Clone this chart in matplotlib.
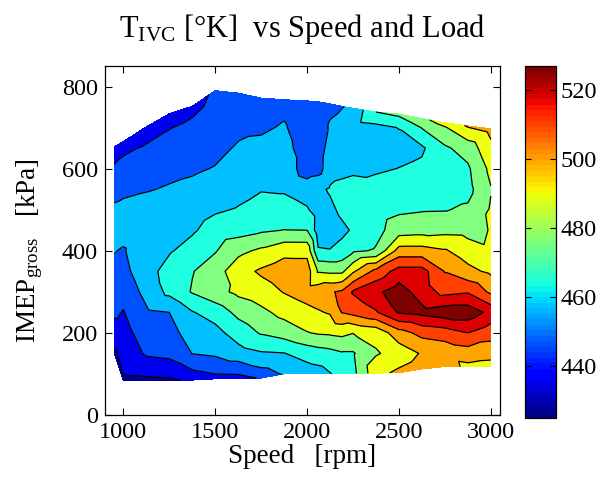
import numpy as np
import matplotlib
matplotlib.use("Agg")
import matplotlib.pyplot as plt
import matplotlib.tri as mtri
from matplotlib.path import Path
from matplotlib.colors import Normalize
from matplotlib.cm import ScalarMappable

plt.rcParams['font.family'] = ['Liberation Serif', 'DejaVu Serif']
plt.rcParams['mathtext.fontset'] = 'custom'
plt.rcParams['mathtext.rm'] = 'Liberation Serif'
plt.rcParams['mathtext.it'] = 'Liberation Serif:italic'

# ---- data ----
speeds = [950, 1000, 1125, 1250, 1375, 1500, 1625, 1750, 1875, 2000,
          2060, 2125, 2190, 2250, 2375, 2500, 2625, 2750, 2875, 3000]
load_top = [653, 666, 702, 734, 752, 790, 784, 772, 768, 765,
            763, 758, 752, 747, 738, 733, 722, 712, 704, 697]
load_bottom = [150, 83, 83, 83, 85, 88, 89, 90, 100, 100,
               100, 100, 101, 101, 102, 103, 112, 118, 118, 118]
T_top = [436, 436, 436, 436, 437.5, 441, 443, 441, 444, 442,
         445, 448, 449.5, 452, 470, 472, 478, 484, 491, 493]
T_bottom = [428, 428, 427, 427, 433, 436, 436, 441, 451, 455,
            456, 459.5, 463, 467, 487, 492, 495, 494, 488, 486]
grid_loads = [750, 700, 650, 600, 550, 500, 450, 400, 350, 300, 250, 200, 150, 100]
N = None
T_grid = [
    [N, N, N, 441, 446, 452, 455, 450.5, 447.5, 444.4, 441.6, 435.5, N, N],
    [N, N, 438.5, 442.4, 447.5, 453, 454, 449, 447, 443.2, 439.5, 436.5, 433.6, 430.6],
    [N, N, 441, 444.6, 449.3, 454, 457, 458, 456.5, 453, 448.5, 444.9, 441.3, 432],
    [N, 439.6, 443.6, 447.4, 450.9, 453.6, 456.4, 459.1, 463.5, 462.5, 450, 446.4, 442.5, 433],
    [N, 442.2, 445.4, 448.6, 452.4, 455.6, 458.8, 463.6, 469.5, 470.8, 459.4, 454.6, 450.2, 437.5],
    [442.5, 444.3, 447.4, 450.5, 454.6, 458.9, 464, 469.3, 475.5, 476.5, 464.2, 456.8, 451.7, 440],
    [445, 448, 451, 454.2, 457.3, 460.6, 466.1, 477.3, 486, 482.3, 472.6, 464.5, 456, 440.5],
    [443, 448.5, 452.6, 456, 459.4, 463.9, 468.6, 481.9, 491.5, 485.5, 477.6, 470.9, 459, 446],
    [448, 451, 453.3, 456, 458.9, 463.8, 470.2, 487, 495.5, 490.5, 483.1, 474.3, 459.7, N],
    [443, 444, 445, 445, 455, 461, 470, 487, 495, 494.6, 487, 479.5, 463.8, N],
    [445, 445, 445.5, 446, 458, 455.5, 455, 461, 479, 496, 489, 481, 465.5, N],
    [N, 451, 453.5, 456, 461, 458, 455, 460.5, 478, 499, 491, 481.5, 466.8, N],
    [N, 454, 456, 458.5, 461.5, 462, 458, 463, 478, 501.5, 500.5, 482.5, 469, N],
    [N, 455, 457, 459, 462, 464, 461, 468.3, 488.5, 511, 503, 480.3, 469, N],
    [N, 457, 455, 458.5, 464, 465.5, 467, 471, 503, 518, 509, 483, 479, N],
    [N, 460.3, 456.5, 460.2, 464.3, 468.4, 475, 494, 514, 525, 521, 496, 484, N],
    [N, 470.5, 458.5, 462, 465, 469.3, 476, 494, 514, 515, 523, 503, 491, N],
    [N, 479, 468.5, 466, 466, 469.5, 477, 491, 499.5, 507, 526, 505, 493, N],
    [N, N, 474, 468.5, 467, 471.5, 476.5, 485, 492.8, 509, 526, 510, 495, N],
    [N, N, 487.5, 482.5, 479.5, 481, 480.5, 481.5, 488, 498, 517, 504, 494, N],
]
levels = [420, 430, 440, 450, 460, 470, 480, 490, 500, 510, 520, 530]
band_colors = ['#00008F', '#0000F0', '#0050FF', '#00C0FF', '#20FFDF', '#80FF80',
               '#EFFF10', '#FFA500', '#FF4000', '#DD0000', '#800000']
x_ticks = [1000, 1500, 2000, 2500, 3000]
y_ticks = [0, 200, 400, 600, 800]
cbar_ticks = [440, 460, 480, 500, 520]
cbar_range = (425, 527)

# ---- assemble scattered points ----
xs, ys, zs = [], [], []
for j, s in enumerate(speeds):
    xs += [s, s]
    ys += [load_top[j], load_bottom[j]]
    zs += [T_top[j], T_bottom[j]]
    for i, L in enumerate(grid_loads):
        v = T_grid[j][i]
        if v is not None:
            xs.append(s); ys.append(L); zs.append(v)
xs = np.array(xs, float); ys = np.array(ys, float); zs = np.array(zs, float)

# triangulate in roughly isotropic (screen-like) coordinates
tri0 = mtri.Triangulation(xs * 0.1845, ys * 0.41)
tri = mtri.Triangulation(xs, ys, tri0.triangles)
poly = [(s, t) for s, t in zip(speeds, load_top)] + \
       [(s, b) for s, b in zip(speeds[::-1], load_bottom[::-1])]
path = Path(poly)
cx = xs[tri.triangles].mean(axis=1)
cy = ys[tri.triangles].mean(axis=1)
tri.set_mask(~path.contains_points(np.column_stack([cx, cy]), radius=-0.5))

# ---- figure ----
fig = plt.figure(figsize=(6.03, 4.80), dpi=100)
ax = fig.add_axes([105/603, (480-415)/480, 395/603, 349/480])
ax.tricontourf(tri, zs, levels=levels, colors=band_colors)
ax.tricontour(tri, zs, levels=levels[1:-1], colors='k', linewidths=0.9)
ax.set_xlim(900, 3050)
ax.set_ylim(0, 850)
ax.set_xticks(x_ticks)
ax.set_yticks(y_ticks)
ax.tick_params(direction='in', top=True, right=True, length=5, labelsize=17.5, pad=5)
for sp in ax.spines.values():
    sp.set_linewidth(0.9)
ax.set_xlabel('Speed   [rpm]', fontsize=19.5, labelpad=1)
ax.set_ylabel('IMEP$_{\\mathrm{gross}}$   [kPa]', fontsize=19.5)
ax.yaxis.set_label_coords(-0.152, 0.47)
fig.text((105 + 500) / 2 / 603, 1 - 37 / 480, 'T$_{\\mathrm{IVC}}$ [°K]  vs Speed and Load',
         fontsize=22, ha='center', va='baseline')

cax = fig.add_axes([525/603, (480-418)/480, 31/603, 352/480])
sm = ScalarMappable(norm=Normalize(*cbar_range), cmap=plt.get_cmap('jet', 64))
cb = fig.colorbar(sm, cax=cax, ticks=cbar_ticks)
cax.tick_params(direction='in', left=True, right=True, length=4, labelsize=17.5, pad=3)
cb.outline.set_linewidth(0.9)

fig.savefig('out.png', dpi=100)
